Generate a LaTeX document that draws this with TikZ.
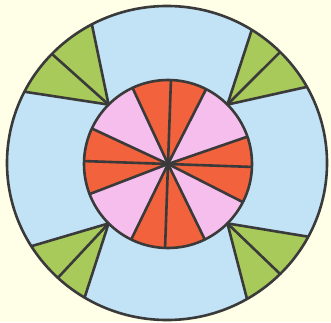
\documentclass[tikz,border=0pt]{standalone}
\usepackage{tikz}
\usepackage{xcolor}
\usetikzlibrary{calc}

\definecolor{paper}{HTML}{FFFEE6}
\definecolor{sky}{HTML}{C2E2F5}
\definecolor{blush}{HTML}{F5BEEC}
\definecolor{tomato}{HTML}{F2623C}
\definecolor{leaf}{HTML}{A8CA5A}
\definecolor{edge}{HTML}{3A3A3A}

\begin{document}
\begin{tikzpicture}[
  x=1pt, y=1pt,  rim/.style={draw=edge,line width=2.6pt,line join=round},  wedge/.style={fill=leaf},  slice/.style={fill=tomato}
]
  \useasboundingbox[fill=paper] (0,0) rectangle (331,322);
  \coordinate (O) at (167,159);
  \coordinate (C) at (168,158);
  \fill[sky] (O) ellipse[x radius=160pt, y radius=157pt];
  % green corners
  \foreach \k/\a/\b/\c/\d in {1/45/29/45/58, 2/135/118/136/153, 3/225/212/227/239, 4/315/300/315/332} {
    \coordinate (g\k) at ($(C)+(\a:84pt)$);
    \coordinate (s\k) at ($(O)+(\b:160pt and 157pt)$);
    \coordinate (m\k) at ($(O)+(\c:160pt and 157pt)$);
    \coordinate (e\k) at ($(O)+(\d:160pt and 157pt)$);
    \fill[wedge] (g\k) -- (s\k) arc[start angle=\b, end angle=\d, x radius=160pt, y radius=157pt] -- cycle;
    \draw[rim] (s\k) -- (g\k) -- (e\k);
    \draw[rim] (g\k) -- (m\k);
  }
  % inner disc
  \fill[blush] (C) circle[radius=84pt];
  \foreach \s/\e in {63/115, 155/201, 244/296, -27/19}
    \fill[slice] (C) -- ($(C)+(\s:84pt)$) arc[start angle=\s, end angle=\e, radius=84pt] -- cycle;
  \foreach \a in {19,63,88,115,155,178,201,244,268,296,333,358}
    \draw[rim] (C) -- ($(C)+(\a:84pt)$);
  \draw[rim] (C) circle[radius=84pt];
  \draw[rim] (O) ellipse[x radius=160pt, y radius=157pt];
\end{tikzpicture}
\end{document}
